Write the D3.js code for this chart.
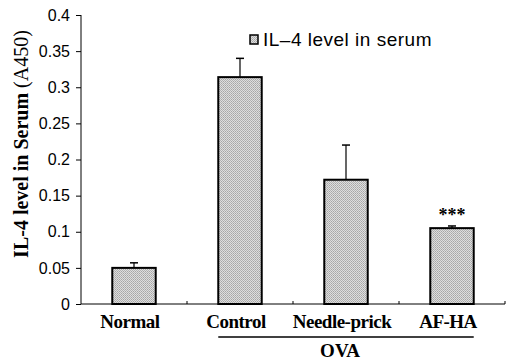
<!DOCTYPE html>
<html lang="en">
<head>
<meta charset="UTF-8">
<title>IL-4 level in serum</title>
<script src="https://d3js.org/d3.v7.min.js"></script>
<style>
    body { margin: 0; background: #fff; }
    svg { display: block; }
</style>
</head>
<body>
<script>
    // chart values
    const categories = ["Normal", "Control", "Needle-prick", "AF-HA"];
    const means = [0.050, 0.314, 0.172, 0.105];
    const errors = [0.007, 0.026, 0.048, 0.003];
    const marks = ["", "", "", "***"];
    const yTicks = [0, 0.05, 0.1, 0.15, 0.2, 0.25, 0.3, 0.35, 0.4];
    const groupLabel = "OVA";
    const groupMembers = ["Control", "Needle-prick", "AF-HA"];
    const legendLabel = "IL\u20134 level in serum";

    const width = 506, height = 362;
    const margin = { top: 15, right: 1, bottom: 58, left: 81 };
    const innerW = width - margin.left - margin.right;
    const innerH = height - margin.top - margin.bottom;

    const svg = d3.select("body").append("svg")
        .attr("width", width)
        .attr("height", height);

    // dithered gray fill like the scanned bars
    const defs = svg.append("defs");
    const pat = defs.append("pattern")
        .attr("id", "dots")
        .attr("width", 2).attr("height", 2)
        .attr("patternUnits", "userSpaceOnUse");
    pat.append("rect").attr("width", 2).attr("height", 2).attr("fill", "#dedede");
    pat.append("rect").attr("width", 1).attr("height", 1).attr("fill", "#a6a6a6");
    pat.append("rect").attr("x", 1).attr("y", 1).attr("width", 1).attr("height", 1).attr("fill", "#b4b4b4");

    const g = svg.append("g")
        .attr("transform", `translate(${margin.left},${margin.top})`);

    const x = d3.scaleBand().domain(categories).range([0, innerW]).padding(0);
    const barW = x.bandwidth() * 0.41;
    const y = d3.scaleLinear().domain([0, 0.4]).range([innerH, 0]);

    // y axis
    const yAxis = g.append("g")
        .call(d3.axisLeft(y).tickValues(yTicks).tickSize(5).tickPadding(6)
            .tickFormat(d => String(d)));
    yAxis.select(".domain").attr("d", `M0,0V${innerH}`).attr("stroke", "#000");
    yAxis.selectAll(".tick line").attr("stroke", "#000");
    yAxis.selectAll(".tick text")
        .attr("fill", "#000")
        .style("font-family", "'Liberation Sans', Arial, sans-serif")
        .style("font-size", "16px");

    // x axis line with small ticks at category boundaries
    g.append("line")
        .attr("x1", 0).attr("x2", innerW)
        .attr("y1", innerH).attr("y2", innerH)
        .attr("stroke", "#000");
    g.selectAll(".xtick")
        .data(categories)
        .enter().append("line")
        .attr("x1", d => x(d) + x.bandwidth())
        .attr("x2", d => x(d) + x.bandwidth())
        .attr("y1", innerH).attr("y2", innerH - 3)
        .attr("stroke", "#000");

    // error bars (upper only)
    categories.forEach((c, i) => {
        const cx = x(c) + x.bandwidth() / 2;
        g.append("line")
            .attr("x1", cx).attr("x2", cx)
            .attr("y1", y(means[i])).attr("y2", y(means[i] + errors[i]))
            .attr("stroke", "#000").attr("stroke-width", 1.2);
        g.append("line")
            .attr("x1", cx - 4).attr("x2", cx + 4)
            .attr("y1", y(means[i] + errors[i])).attr("y2", y(means[i] + errors[i]))
            .attr("stroke", "#000").attr("stroke-width", 1.5);
    });

    // bars
    g.selectAll(".bar")
        .data(categories)
        .enter().append("rect")
        .attr("class", "bar")
        .attr("x", d => x(d) + (x.bandwidth() - barW) / 2)
        .attr("y", (d, i) => y(means[i]))
        .attr("width", barW)
        .attr("height", (d, i) => innerH - y(means[i]))
        .attr("fill", "url(#dots)")
        .attr("stroke", "#000")
        .attr("stroke-width", 2);

    // significance marks
    g.selectAll(".mark")
        .data(categories)
        .enter().append("text")
        .attr("x", d => x(d) + x.bandwidth() / 2)
        .attr("y", (d, i) => y(means[i] + errors[i]) - 5)
        .attr("text-anchor", "middle")
        .style("font-family", "'Liberation Serif', 'Times New Roman', serif")
        .style("font-weight", "bold")
        .style("font-size", "18px")
        .text((d, i) => marks[i]);

    // category labels
    g.selectAll(".xlab")
        .data(categories)
        .enter().append("text")
        .attr("x", d => x(d) + x.bandwidth() / 2 - 4)
        .attr("y", innerH + 24)
        .attr("text-anchor", "middle")
        .style("font-family", "'Liberation Serif', 'Times New Roman', serif")
        .style("font-weight", "bold")
        .style("font-size", "19px")
        .style("letter-spacing", "-0.5px")
        .text(d => d);

    // OVA group bracket
    const gx0 = x(groupMembers[0]) + x.bandwidth() / 2 - barW / 2;
    const gLast = groupMembers[groupMembers.length - 1];
    const gx1 = x(gLast) + x.bandwidth() / 2 + barW / 2;
    g.append("line")
        .attr("x1", gx0).attr("x2", gx1)
        .attr("y1", innerH + 33).attr("y2", innerH + 33)
        .attr("stroke", "#000").attr("stroke-width", 1.5);
    g.append("text")
        .attr("x", (gx0 + gx1) / 2 - 6)
        .attr("y", innerH + 53)
        .attr("text-anchor", "middle")
        .style("font-family", "'Liberation Serif', 'Times New Roman', serif")
        .style("font-weight", "bold")
        .style("font-size", "19px")
        .text(groupLabel);

    // y axis title
    const yt = svg.append("text")
        .attr("transform", "translate(28,144) rotate(-90)")
        .attr("text-anchor", "middle")
        .style("font-family", "'Liberation Serif', 'Times New Roman', serif")
        .style("font-size", "20px");
    yt.append("tspan").style("font-weight", "bold").text("IL-4 level in Serum ");
    yt.append("tspan").style("font-weight", "normal").text("(A450)");

    // legend
    const leg = svg.append("g").attr("transform", "translate(250,35)");
    leg.append("rect")
        .attr("width", 8).attr("height", 9)
        .attr("fill", "url(#dots)")
        .attr("stroke", "#000").attr("stroke-width", 1.5);
    leg.append("text")
        .attr("x", 13).attr("y", 11)
        .style("font-family", "'Liberation Sans', Arial, sans-serif")
        .style("font-size", "19px")
        .style("letter-spacing", "0.5px")
        .text(legendLabel);
</script>
</body>
</html>
